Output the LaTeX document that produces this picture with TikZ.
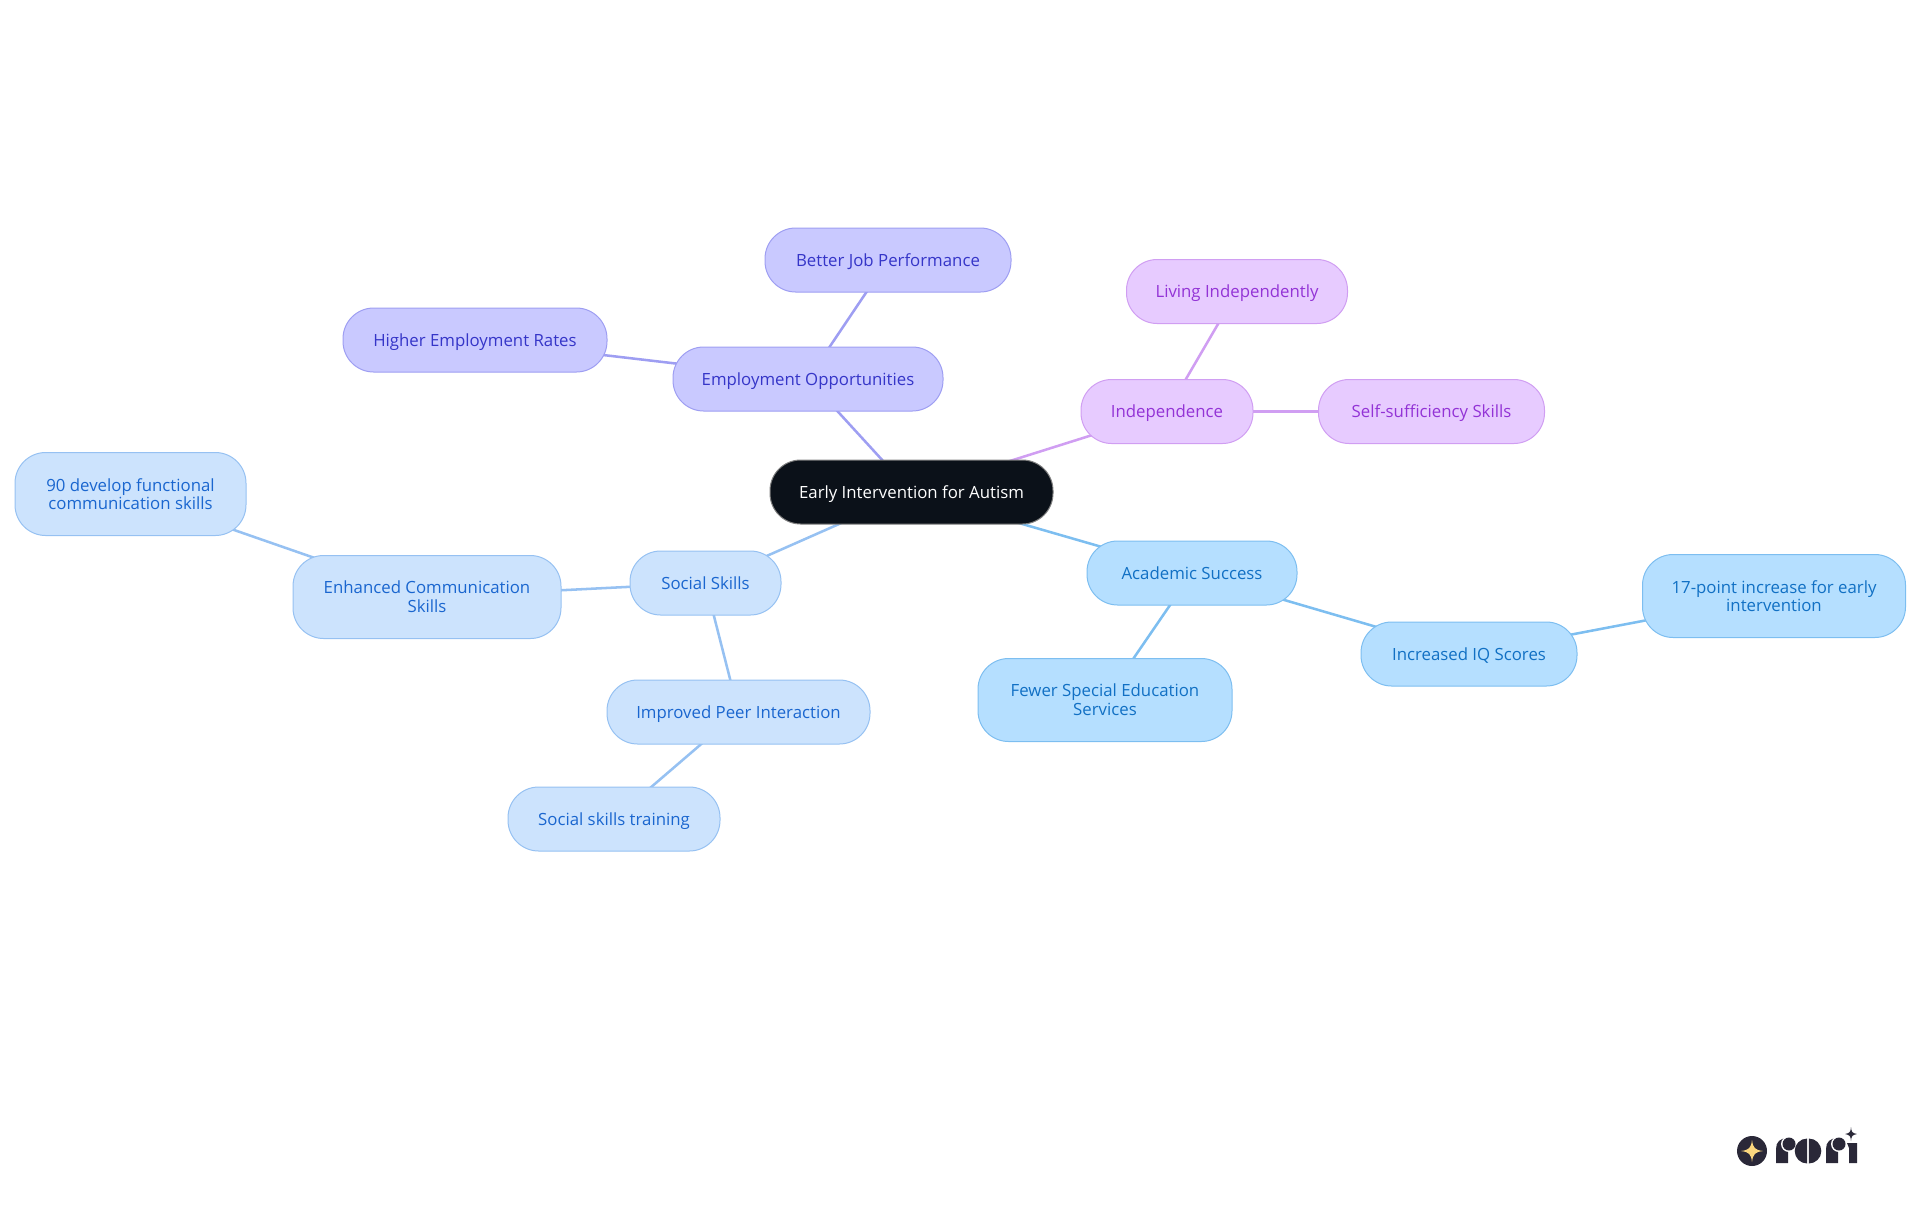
\documentclass[tikz,border=0pt]{standalone}
\usepackage{fontspec}
\setmainfont{Open Sans}
\usetikzlibrary{backgrounds}
\definecolor{rootfill}{HTML}{0B1119}
\definecolor{acadfill}{HTML}{B5DFFF}
\definecolor{acadline}{HTML}{7DBEF0}
\definecolor{acadtext}{HTML}{1170C4}
\definecolor{socfill}{HTML}{CCE3FD}
\definecolor{socline}{HTML}{96C1F2}
\definecolor{soctext}{HTML}{1A66CF}
\definecolor{empfill}{HTML}{C9C9FF}
\definecolor{empline}{HTML}{9E9EF2}
\definecolor{emptext}{HTML}{3535C8}
\definecolor{indfill}{HTML}{E7CBFF}
\definecolor{indline}{HTML}{D09EF2}
\definecolor{indtext}{HTML}{9333D6}
\definecolor{logodark}{HTML}{2A2838}
\definecolor{logostar}{HTML}{FBD77E}
\tikzset{
  mapnode/.style={rectangle,rounded corners=23pt,draw=#1line,fill=#1fill,text=#1text,line width=0.75pt,
    align=center,inner sep=0pt,font=\fontsize{12.6pt}{14pt}\selectfont},
  oneline/.style={text height=12pt,text depth=3pt},
  boxsize/.style 2 args={minimum width=0.75pt*#1,minimum height=0.75pt*#2},
  link/.style={line width=1.9pt,draw=#1line},
}
\begin{document}
\begin{tikzpicture}[x=0.75pt,y=0.75pt,yscale=-1,xscale=1]
\useasboundingbox (0,0) rectangle (1920,1215);

% Root
\node [rectangle,rounded corners=23pt,draw=gray,fill=rootfill,text=white,line width=0.75pt,inner sep=0pt,
  font=\fontsize{12.6pt}{14pt}\selectfont,oneline,boxsize={283}{64}] (root) at (911.5,492) {Early Intervention for Autism};
% Employment
\node [mapnode=emp,oneline,boxsize={270}{64}] (employ) at (808,379) {Employment Opportunities};
\node [mapnode=emp,oneline,boxsize={246}{64}] (jobperf) at (888,260) {Better Job Performance};
\node [mapnode=emp,oneline,boxsize={264}{64}] (emprates) at (475,340) {Higher Employment Rates};
% Independence
\node [mapnode=ind,oneline,boxsize={172}{64}] (indep) at (1167,411.5) {Independence};
\node [mapnode=ind,oneline,boxsize={221}{64}] (living) at (1237,291.5) {Living Independently};
\node [mapnode=ind,oneline,boxsize={226}{64}] (selfsuff) at (1431.5,411.5) {Self-sufficiency Skills};
% Academic
\node [mapnode=acad,oneline,boxsize={210}{64}] (academic) at (1192,573) {Academic Success};
\node [mapnode=acad,oneline,boxsize={216}{64}] (iqscores) at (1469,654) {Increased IQ Scores};
\node [mapnode=acad,boxsize={263}{83}] (iqpoints) at (1774,596) {17-point increase for early\\intervention};
\node [mapnode=acad,boxsize={254}{83}] (special) at (1105,700) {Fewer Special Education\\Services};
% Social
\node [mapnode=soc,oneline,boxsize={151}{64}] (social) at (705.5,583) {Social Skills};
\node [mapnode=soc,boxsize={268}{83}] (enhanced) at (427,597) {Enhanced Communication\\Skills};
\node [mapnode=soc,boxsize={231}{83}] (functional) at (130.5,494) {90 develop functional\\communication skills};
\node [mapnode=soc,oneline,boxsize={263}{64}] (peer) at (738.5,712) {Improved Peer Interaction};
\node [mapnode=soc,oneline,boxsize={212}{64}] (training) at (614,819) {Social skills training};

% Connections
\begin{scope}[on background layer]
\draw [link=emp] (root.center) -- (employ.center);
\draw [link=emp] (employ.center) -- (jobperf.center);
\draw [link=emp] (employ.center) -- (emprates.center);
\draw [link=ind] (root.center) -- (indep.center);
\draw [link=ind] (indep.center) -- (living.center);
\draw [link=ind] (indep.center) -- (selfsuff.center);
\draw [link=acad] (root.center) -- (academic.center);
\draw [link=acad] (academic.center) -- (iqscores.center);
\draw [link=acad] (iqscores.center) -- (iqpoints.center);
\draw [link=acad] (academic.center) -- (special.center);
\draw [link=soc] (root.center) -- (social.center);
\draw [link=soc] (social.center) -- (enhanced.center);
\draw [link=soc] (enhanced.center) -- (functional.center);
\draw [link=soc] (social.center) -- (peer.center);
\draw [link=soc] (peer.center) -- (training.center);
\end{scope}

% Logo
\fill [logodark] (1752,1151) circle [radius=15];
\fill [logostar] (1752,1140) .. controls (1753,1148) and (1755,1150) .. (1763,1151) .. controls (1755,1152) and (1753,1154) .. (1752,1162) .. controls (1751,1154) and (1749,1152) .. (1741,1151) .. controls (1749,1150) and (1751,1148) .. (1752,1140) -- cycle;
\foreach \rx in {1776,1826} {
  \fill [logodark] (\rx,1163) -- (\rx,1149) .. controls (\rx,1142) and (\rx+4,1138) .. (\rx+12,1138) -- (\rx+12,1163) -- cycle;
  \fill [white] (\rx+13,1144) circle [radius=8];
  \fill [logodark] (\rx+13,1144) circle [radius=6.5];
}
\fill [logodark] (1807.2,1138.5) arc [start angle=270,end angle=90,radius=12.5] -- cycle;
\fill [logodark] (1808.8,1138.5) arc [start angle=270,end angle=450,radius=12.5] -- cycle;
\fill [logodark] (1847,1143) -- (1857,1143) -- (1857,1163) -- (1849,1163) -- (1849,1148) -- cycle;
\fill [logodark] (1851,1127) .. controls (1851.5,1132) and (1852,1133) .. (1857,1134) .. controls (1852,1135) and (1851.5,1136) .. (1851,1141) .. controls (1850.5,1136) and (1850,1135) .. (1845,1134) .. controls (1850,1133) and (1850.5,1132) .. (1851,1127) -- cycle;
\end{tikzpicture}
\end{document}
